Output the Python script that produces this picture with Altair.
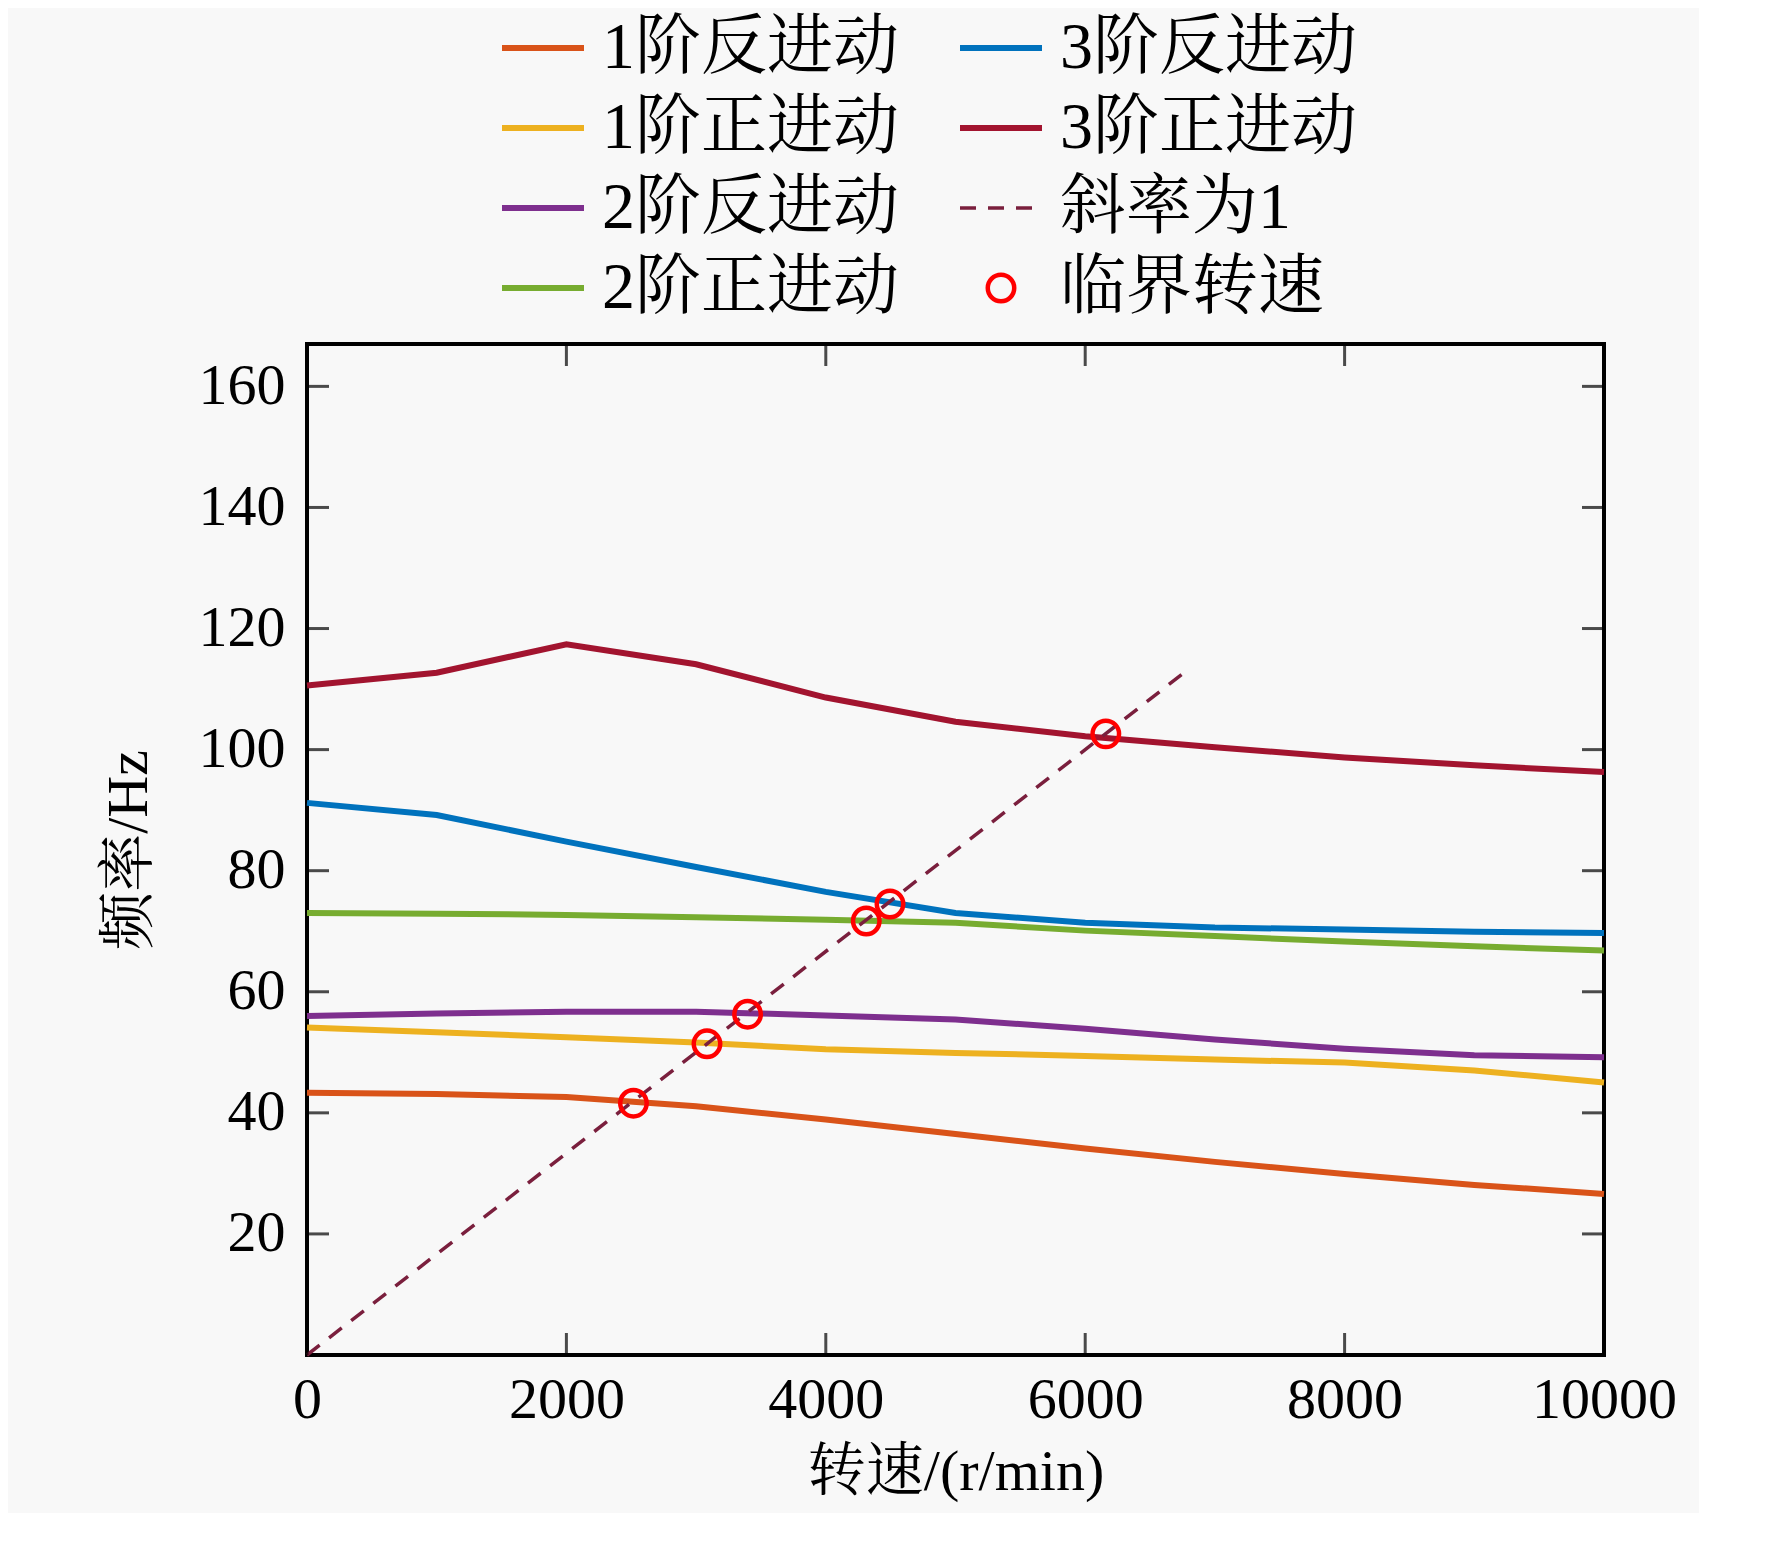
import altair as alt
import pandas as pd

FONT = "Liberation Serif, Noto Serif CJK SC, Noto Sans CJK SC"

speed = [0, 1000, 2000, 3000, 4000, 5000, 6000, 7000, 8000, 9000, 10000]
m1_back = [43.3, 43.1, 42.6, 41.1, 38.9, 36.5, 34.1, 31.9, 29.9, 28.1, 26.6]
m1_fwd = [54.1, 53.3, 52.5, 51.6, 50.5, 49.9, 49.4, 48.8, 48.3, 47.0, 45.0]
m2_back = [56.0, 56.4, 56.7, 56.7, 56.1, 55.4, 53.9, 52.1, 50.6, 49.5, 49.2]
m2_fwd = [73.0, 72.9, 72.7, 72.3, 71.9, 71.4, 70.1, 69.2, 68.3, 67.5, 66.8]
m3_back = [91.2, 89.2, 84.8, 80.6, 76.5, 73.0, 71.4, 70.6, 70.3, 69.9, 69.7]
m3_fwd = [110.6, 112.7, 117.4, 114.1, 108.6, 104.6, 102.2, 100.4, 98.7, 97.4, 96.3]

slope_x = [0, 6780]
slope_y = [0, 113]

crit_x = [2517, 3084, 3397, 4312, 4495, 6159]
crit_y = [41.6, 51.4, 56.3, 71.7, 74.5, 102.6]

names = ["1阶反进动", "1阶正进动", "2阶反进动", "2阶正进动", "3阶反进动", "3阶正进动"]
colors = ["#D95319", "#EDB120", "#7E2F8E", "#77AC30", "#0072BD", "#A2142F"]
series = [m1_back, m1_fwd, m2_back, m2_fwd, m3_back, m3_fwd]

y_ticks = [20, 40, 60, 80, 100, 120, 140, 160]
x_ticks = [0, 2000, 4000, 6000, 8000, 10000]

rows = []
for n, s in zip(names, series):
    for x, y in zip(speed, s):
        rows.append({"mode": n, "speed": x, "freq": y})
curves = pd.DataFrame(rows)

X = alt.X("speed:Q", scale=alt.Scale(domain=[0, 10000], nice=False),
          axis=alt.Axis(values=x_ticks, format="d", title="转速/(r/min)", grid=False, ticks=False,
                        labelFlush=False, labelAlign="center", labelPadding=16, titlePadding=14))
Y = alt.Y("freq:Q", scale=alt.Scale(domain=[0, 167], nice=False),
          axis=alt.Axis(values=y_ticks, format="d", title="频率/Hz", grid=False, ticks=False,
                        labelPadding=22, titlePadding=40))

lines = alt.Chart(curves).mark_line(strokeWidth=6).encode(
    x=X, y=Y,
    color=alt.Color("mode:N", scale=alt.Scale(domain=names, range=colors), legend=None),
)

slope = alt.Chart(pd.DataFrame({"speed": slope_x, "freq": slope_y})).mark_line(
    strokeWidth=3.5, strokeDash=[16, 12], color="#7A1F3D"
).encode(x="speed:Q", y="freq:Q")

crit = alt.Chart(pd.DataFrame({"speed": crit_x, "freq": crit_y})).mark_point(
    shape="circle", size=700, strokeWidth=4.5, color="#FF0000", filled=False, opacity=1
).encode(x="speed:Q", y="freq:Q")

yt = pd.DataFrame({"freq": y_ticks})
xt = pd.DataFrame({"speed": x_ticks})
tick_l = alt.Chart(yt).mark_tick(color="black", thickness=3, size=22, orient="horizontal", xOffset=11).encode(
    x=alt.value(0), y="freq:Q")
tick_r = alt.Chart(yt).mark_tick(color="black", thickness=3, size=22, orient="horizontal", xOffset=-11).encode(
    x=alt.value(1297), y="freq:Q")
tick_b = alt.Chart(xt).mark_tick(color="black", thickness=3, size=22, orient="vertical", yOffset=-11).encode(
    x="speed:Q", y=alt.value(1011))
tick_t = alt.Chart(xt).mark_tick(color="black", thickness=3, size=22, orient="vertical", yOffset=11).encode(
    x="speed:Q", y=alt.value(0))

main = alt.layer(lines, slope, crit, tick_l, tick_r, tick_b, tick_t).properties(
    width=1297, height=1011, view=alt.ViewConfig(stroke="black", strokeWidth=4))

# legend panel (column-major, two columns)
leg_names = names[:4] + names[4:] + ["斜率为1", "临界转速"]
leg_col = [0, 0, 0, 0, 1, 1, 1, 1]
leg_row = [0, 1, 2, 3, 0, 1, 2, 3]
leg_kind = ["line"] * 6 + ["dash", "circle"]
leg_color = colors[:4] + colors[4:] + ["#7A1F3D", "#FF0000"]
leg = pd.DataFrame({"name": leg_names, "col": leg_col, "row": leg_row,
                    "kind": leg_kind, "color": leg_color})
leg["x0"] = 195 + leg["col"] * 458
leg["x1"] = leg["x0"] + 82
leg["xm"] = leg["x0"] + 41
leg["xt"] = leg["x0"] + 100

LX = alt.Scale(domain=[0, 1297], nice=False)
base = alt.Chart(leg)
ly = alt.Y("row:Q", scale=alt.Scale(domain=[3.5, -0.5], nice=False), axis=None)
leg_line = base.transform_filter("datum.kind == 'line'").mark_rule(strokeWidth=6).encode(
    x=alt.X("x0:Q", scale=LX, axis=None), x2="x1:Q", y=ly, color=alt.Color("color:N", scale=None))
leg_dash = base.transform_filter("datum.kind == 'dash'").mark_rule(strokeWidth=3.5, strokeDash=[16, 12]).encode(
    x=alt.X("x0:Q", scale=LX, axis=None), x2="x1:Q", y=ly, color=alt.Color("color:N", scale=None))
leg_circ = base.transform_filter("datum.kind == 'circle'").mark_point(
    shape="circle", size=700, strokeWidth=4.5, filled=False, opacity=1).encode(
    x=alt.X("xm:Q", scale=LX, axis=None), y=ly, color=alt.Color("color:N", scale=None))
leg_text = base.mark_text(align="left", baseline="middle", fontSize=66, font=FONT, color="black").encode(
    x=alt.X("xt:Q", scale=LX, axis=None), y=ly, text="name:N")
legend = alt.layer(leg_line, leg_dash, leg_circ, leg_text).properties(
    width=1297, height=320, view=alt.ViewConfig(strokeOpacity=0))

chart = alt.vconcat(legend, main, spacing=14).configure(
    background="#F8F8F8", padding={"left": 90, "top": 0, "right": 20, "bottom": 10}
).configure_axis(
    labelFont=FONT, titleFont=FONT, labelFontSize=58, titleFontSize=58,
    labelFontWeight="normal", titleFontWeight="normal", labelColor="black", titleColor="black",
    domain=False,
)

chart.save("out.html", embed_options={"renderer": "svg", "actions": False})
